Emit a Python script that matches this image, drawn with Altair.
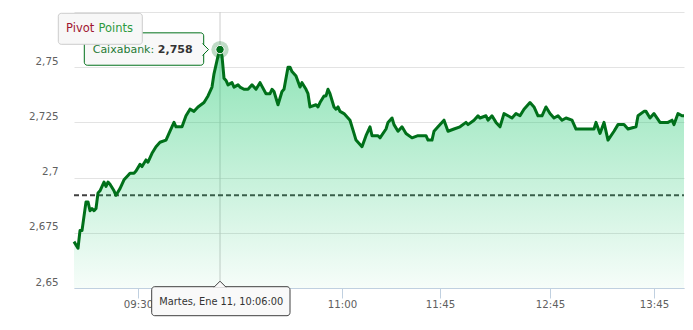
import altair as alt
import pandas as pd

# ---- data (ordinal slots on the x axis) ----
SLOTS = [0,2,3,4,6,7,8,9,10,11,12,13,15,16,17,18,20,21,23,25,27,28,30,31,33,34,36,37,39,41,43,46,48,50,51,54,56,58,60,62,65,67,69,70,72,73,74,75,76,77,79,80,82,83,85,86,87,89,91,93,96,98,99,100,102,104,105,107,108,109,111,113,114,116,117,118,121,122,123,125,126,127,128,130,131,132,133,135,136,138,140,141,143,144,146,148,149,152,153,156,157,159,160,162,164,166,169,172,174,176,177,179,180,182,185,187,190,193,196,197,200,202,203,206,207,209,211,213,215,217,219,221,223,225,226,228,230,232,234,236,238,240,242,244,246,249,251,253,260,261,263,265,267,270,272,275,277,281,282,285,286,288,290,293,297,299,300,302,304,305]
PRICES = [2.671,2.668,2.676,2.676,2.689,2.689,2.685,2.686,2.685,2.686,2.693,2.694,2.698,2.696,2.698,2.697,2.694,2.692,2.695,2.699,2.701,2.702,2.702,2.703,2.706,2.705,2.708,2.707,2.711,2.714,2.716,2.717,2.721,2.725,2.723,2.723,2.728,2.731,2.730,2.732,2.734,2.737,2.741,2.747,2.755,2.758,2.755,2.745,2.744,2.742,2.743,2.741,2.742,2.741,2.740,2.740,2.740,2.742,2.740,2.743,2.738,2.738,2.740,2.739,2.733,2.739,2.740,2.750,2.750,2.748,2.746,2.741,2.743,2.740,2.738,2.732,2.733,2.732,2.734,2.737,2.737,2.740,2.738,2.732,2.731,2.732,2.730,2.729,2.728,2.726,2.720,2.717,2.715,2.714,2.719,2.723,2.719,2.719,2.718,2.722,2.725,2.727,2.724,2.721,2.723,2.720,2.718,2.719,2.719,2.719,2.717,2.717,2.721,2.723,2.726,2.721,2.722,2.723,2.725,2.724,2.726,2.728,2.727,2.728,2.726,2.728,2.725,2.723,2.729,2.728,2.727,2.729,2.728,2.731,2.732,2.734,2.732,2.728,2.728,2.732,2.729,2.727,2.728,2.726,2.727,2.726,2.722,2.722,2.722,2.725,2.720,2.725,2.717,2.721,2.724,2.724,2.722,2.723,2.728,2.730,2.730,2.727,2.729,2.725,2.725,2.726,2.724,2.729,2.728,2.728]
X_DOMAIN = [0, 305]
X_TICK_SLOTS = [32, 83, 134, 183, 238, 290]
X_TICK_LABELS = ["09:30", "10:15", "11:00", "11:45", "12:45", "13:45"]
Y_DOMAIN = [2.65, 2.775]
Y_TICKS = [2.65, 2.675, 2.7, 2.725, 2.75, 2.775]
PIVOT = 2.692
SERIES_NAME = "Caixabank"
PEAK_TIME_LABEL = "Martes, Ene 11, 10:06:00"
BUTTON_WORDS = ["Pivot", "Points"]

assert len(SLOTS) == len(PRICES)

FONT = "DejaVu Sans"
LINE_COLOR = "#00701a"

df = pd.DataFrame({"slot": SLOTS, "price": PRICES})
df["base"] = Y_DOMAIN[0]
df["pivot"] = PIVOT
peak = df.loc[[df["price"].idxmax()]].copy()
peak["name_txt"] = SERIES_NAME + ": "
peak["val_txt"] = peak["price"].map(lambda v: f"{v:.3f}".replace(".", ","))
peak["time_txt"] = PEAK_TIME_LABEL

x_lbl_expr = "".join(
    f"datum.value == {s} ? '{l}' : " for s, l in zip(X_TICK_SLOTS, X_TICK_LABELS)
) + "''"

x_scale = alt.Scale(domain=X_DOMAIN, nice=False, zero=False)
y_scale = alt.Scale(domain=Y_DOMAIN, nice=False, zero=False)

x_axis = alt.Axis(
    values=X_TICK_SLOTS, labelExpr=x_lbl_expr, title=None, grid=False,
    domainColor="#C0D0E0", tickColor="#C0D0E0", tickSize=10, labelPadding=1,
    labelFont=FONT, labelFontSize=10.2, labelColor="#606060", zindex=0,
)
y_axis = alt.Axis(
    values=Y_TICKS, title=None, domain=False, ticks=False, tickSize=0,
    labelPadding=16, labelOffset=-6,
    labelExpr="datum.value > 2.77 ? '' : replace(format(datum.value, '.3~f'), '.', ',')",
    gridColor="#e3e3e3", gridWidth=1, zindex=0,
    labelFont=FONT, labelFontSize=10.3, labelColor="#606060",
)

X = alt.X("slot:Q", scale=x_scale, axis=x_axis, title=None)
Y = alt.Y("price:Q", scale=y_scale, axis=y_axis, title=None)

base = alt.Chart(df)
pk = alt.Chart(peak)

crosshair = pk.mark_rule(color="#cccccc", strokeWidth=1).encode(
    x=X, y=alt.value(0), y2=alt.value(276)
)

pivot = pk.mark_rule(color="#404040", strokeWidth=2, strokeDash=[5, 3]).encode(
    y=alt.Y("pivot:Q", scale=y_scale, axis=y_axis, title=None),
    x=alt.value(0), x2=alt.value(610),
)

area = base.mark_area(
    color=alt.Gradient(
        gradient="linear",
        stops=[
            alt.GradientStop(color="rgba(30,200,110,0.5)", offset=0),
            alt.GradientStop(color="rgba(30,200,110,0.04)", offset=1),
        ],
        x1=1, x2=1, y1=0, y2=1,
    )
).encode(x=X, y=Y, y2="base:Q")

line = base.mark_line(color=LINE_COLOR, strokeWidth=3, strokeJoin="round").encode(x=X, y=Y)

halo = pk.mark_point(filled=True, color=LINE_COLOR, opacity=0.25, size=300, shape="circle").encode(x=X, y=Y)
dot = pk.mark_point(filled=True, fill=LINE_COLOR, stroke="white", strokeWidth=1, opacity=1,
                    size=70, shape="circle").encode(x=X, y=Y)

# top tooltip (callout to the left of the point)
tip_box = pk.mark_rect(
    fill="#f7f7f7", fillOpacity=0.9, stroke=LINE_COLOR, strokeWidth=1, cornerRadius=3,
    xOffset=-135.7, x2Offset=-16.3, yOffset=-16.7, y2Offset=15.7,
).encode(x=X, x2="slot:Q", y=Y, y2="price:Q")
tip_arrow = pk.mark_point(
    shape="M -0.5 -1 L 0.5 0 L -0.5 1", size=144, filled=True, fill="#f7f7f7", fillOpacity=1,
    stroke=LINE_COLOR, strokeWidth=1, opacity=1, xOffset=-14.5,
).encode(x=X, y=Y)
tip_name = pk.mark_text(
    align="left", baseline="middle", font=FONT, fontSize=11, color="#1f7a35", dx=-127.3,
).encode(x=X, y=Y, text="name_txt:N")
tip_val = pk.mark_text(
    align="left", baseline="middle", font=FONT, fontSize=11, fontWeight="bold", color="#333333", dx=-62.2,
).encode(x=X, y=Y, text="val_txt:N")

# bottom (x-axis) tooltip
time_box = pk.mark_rect(
    fill="#f9f9f9", fillOpacity=1, stroke="#404040", strokeWidth=1, cornerRadius=3,
    xOffset=-68.3, x2Offset=70,
).encode(x=X, x2="slot:Q", y=alt.value(274.7), y2=alt.value(303.7))
time_arrow = pk.mark_point(
    shape="M -1 0.5 L 0 -0.5 L 1 0.5", size=144, filled=True, fill="#f9f9f9", fillOpacity=1,
    stroke="#404040", strokeWidth=1, opacity=1,
).encode(x=X, y=alt.value(272.2))
time_txt = pk.mark_text(
    align="left", baseline="middle", font=FONT, fontSize=9.8, color="#333333", dx=-60.7,
).encode(x=X, y=alt.value(289.5), text="time_txt:N")

# "Pivot Points" button
btn_df = pd.DataFrame({"w": BUTTON_WORDS, "c": ["#a01530", "#2e9a3e"], "dx": [-8, 24.5]})
btn_box = alt.Chart(pd.DataFrame({"k": [0]})).mark_rect(
    fill="#f7f7f7", stroke="#cccccc", strokeWidth=1, cornerRadius=3,
).encode(x=alt.value(-15.7), x2=alt.value(68.3), y=alt.value(1.3), y2=alt.value(32.3))
btn_txt = alt.Chart(btn_df).mark_text(
    align="left", baseline="middle", font=FONT, fontSize=11.5,
).encode(x=alt.X("dx:Q", scale=None, axis=None), y=alt.value(17), text="w:N",
         color=alt.Color("c:N", scale=None, legend=None))

chart = alt.layer(
    crosshair, pivot, area, line, halo, dot,
    tip_box, tip_arrow, tip_name, tip_val,
    time_box, time_arrow, time_txt,
    btn_box, btn_txt,
).properties(
    width=610, height=276,
    autosize=alt.AutoSizeParams(type="none"),
    padding={"left": 74, "top": 12, "right": 9, "bottom": 42},
    background="white",
).configure_view(strokeWidth=0)

chart.save("out.html", embed_options={"renderer": "svg", "actions": False})
